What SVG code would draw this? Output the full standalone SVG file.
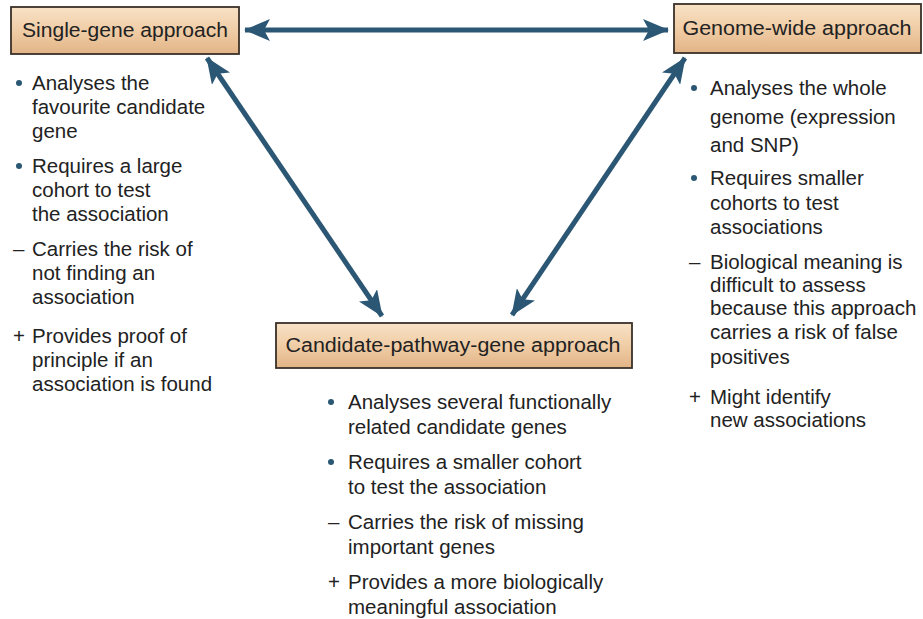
<svg xmlns="http://www.w3.org/2000/svg" width="923" height="619" viewBox="0 0 923 619">
<defs>
<linearGradient id="boxg" x1="0" y1="0" x2="0" y2="1">
<stop offset="0" stop-color="#f8e2c6"/>
<stop offset="0.5" stop-color="#f0cda6"/>
<stop offset="1" stop-color="#e2b487"/>
</linearGradient>
<marker id="ah" viewBox="0 0 26 22" refX="25" refY="11" markerWidth="26" markerHeight="22" markerUnits="userSpaceOnUse" orient="auto-start-reverse">
<path d="M0,0 L26,11 L0,22 L6,11 z" fill="#2b5775"/>
</marker>
<style>
.box{fill:url(#boxg);stroke:#3a3028;stroke-width:1.8}
.lbl{font-family:"Liberation Sans",Arial,sans-serif;font-size:20px;fill:#222}
.t{font-family:"Liberation Sans",Arial,sans-serif;font-size:20.5px;fill:#222}
.b{fill:#2b5775}
.conn{stroke:#2b5775;stroke-width:5;fill:none;marker-start:url(#ah);marker-end:url(#ah)}
</style>
</defs>
<rect width="923" height="619" fill="#ffffff"/>
<g id="connectors">
<line class="conn" x1="245" y1="30" x2="668" y2="30"/>
<line class="conn" x1="207" y1="58" x2="382" y2="316"/>
<line class="conn" x1="685" y1="58" x2="512" y2="315"/>
</g>
<g id="single-gene">
<rect class="box" x="11" y="7" width="228" height="47"/>
<text class="lbl" x="125" y="37" text-anchor="middle" textLength="206" lengthAdjust="spacingAndGlyphs">Single-gene approach</text>
<circle class="b" cx="19" cy="83" r="3"/>
<text class="t" x="32" y="90">Analyses the</text>
<text class="t" x="32" y="114">favourite candidate</text>
<text class="t" x="32" y="138">gene</text>
<circle class="b" cx="19" cy="166" r="3"/>
<text class="t" x="32" y="173">Requires a large</text>
<text class="t" x="32" y="197">cohort to test</text>
<text class="t" x="32" y="221">the association</text>
<text class="t" x="13" y="256">–</text>
<text class="t" x="32" y="256">Carries the risk of</text>
<text class="t" x="32" y="280">not finding an</text>
<text class="t" x="32" y="304">association</text>
<text class="t" x="13" y="343">+</text>
<text class="t" x="32" y="343">Provides proof of</text>
<text class="t" x="32" y="367">principle if an</text>
<text class="t" x="32" y="391">association is found</text>
</g>
<g id="genome-wide">
<rect class="box" x="674" y="4" width="247" height="49"/>
<text class="lbl" x="797" y="35" text-anchor="middle" textLength="229" lengthAdjust="spacingAndGlyphs">Genome-wide approach</text>
<circle class="b" cx="694" cy="88" r="3"/>
<text class="t" x="710" y="95">Analyses the whole</text>
<text class="t" x="710" y="124">genome (expression</text>
<text class="t" x="710" y="152">and SNP)</text>
<circle class="b" cx="694" cy="178" r="3"/>
<text class="t" x="710" y="185">Requires smaller</text>
<text class="t" x="710" y="210">cohorts to test</text>
<text class="t" x="710" y="234">associations</text>
<text class="t" x="689" y="269">–</text>
<text class="t" x="710" y="269">Biological meaning is</text>
<text class="t" x="710" y="292">difficult to assess</text>
<text class="t" x="710" y="315">because this approach</text>
<text class="t" x="710" y="339">carries a risk of false</text>
<text class="t" x="710" y="364">positives</text>
<text class="t" x="689" y="404">+</text>
<text class="t" x="710" y="404">Might identify</text>
<text class="t" x="710" y="427">new associations</text>
</g>
<g id="candidate-pathway">
<rect class="box" x="276" y="323" width="356" height="45"/>
<text class="lbl" x="453" y="352" text-anchor="middle" textLength="335" lengthAdjust="spacingAndGlyphs">Candidate-pathway-gene approach</text>
<circle class="b" cx="331" cy="402" r="3"/>
<text class="t" x="348" y="409">Analyses several functionally</text>
<text class="t" x="348" y="434">related candidate genes</text>
<circle class="b" cx="331" cy="462" r="3"/>
<text class="t" x="348" y="469">Requires a smaller cohort</text>
<text class="t" x="348" y="494">to test the association</text>
<text class="t" x="328" y="529">–</text>
<text class="t" x="348" y="529">Carries the risk of missing</text>
<text class="t" x="348" y="554">important genes</text>
<text class="t" x="328" y="589">+</text>
<text class="t" x="348" y="589">Provides a more biologically</text>
<text class="t" x="348" y="614">meaningful association</text>
</g>
</svg>
